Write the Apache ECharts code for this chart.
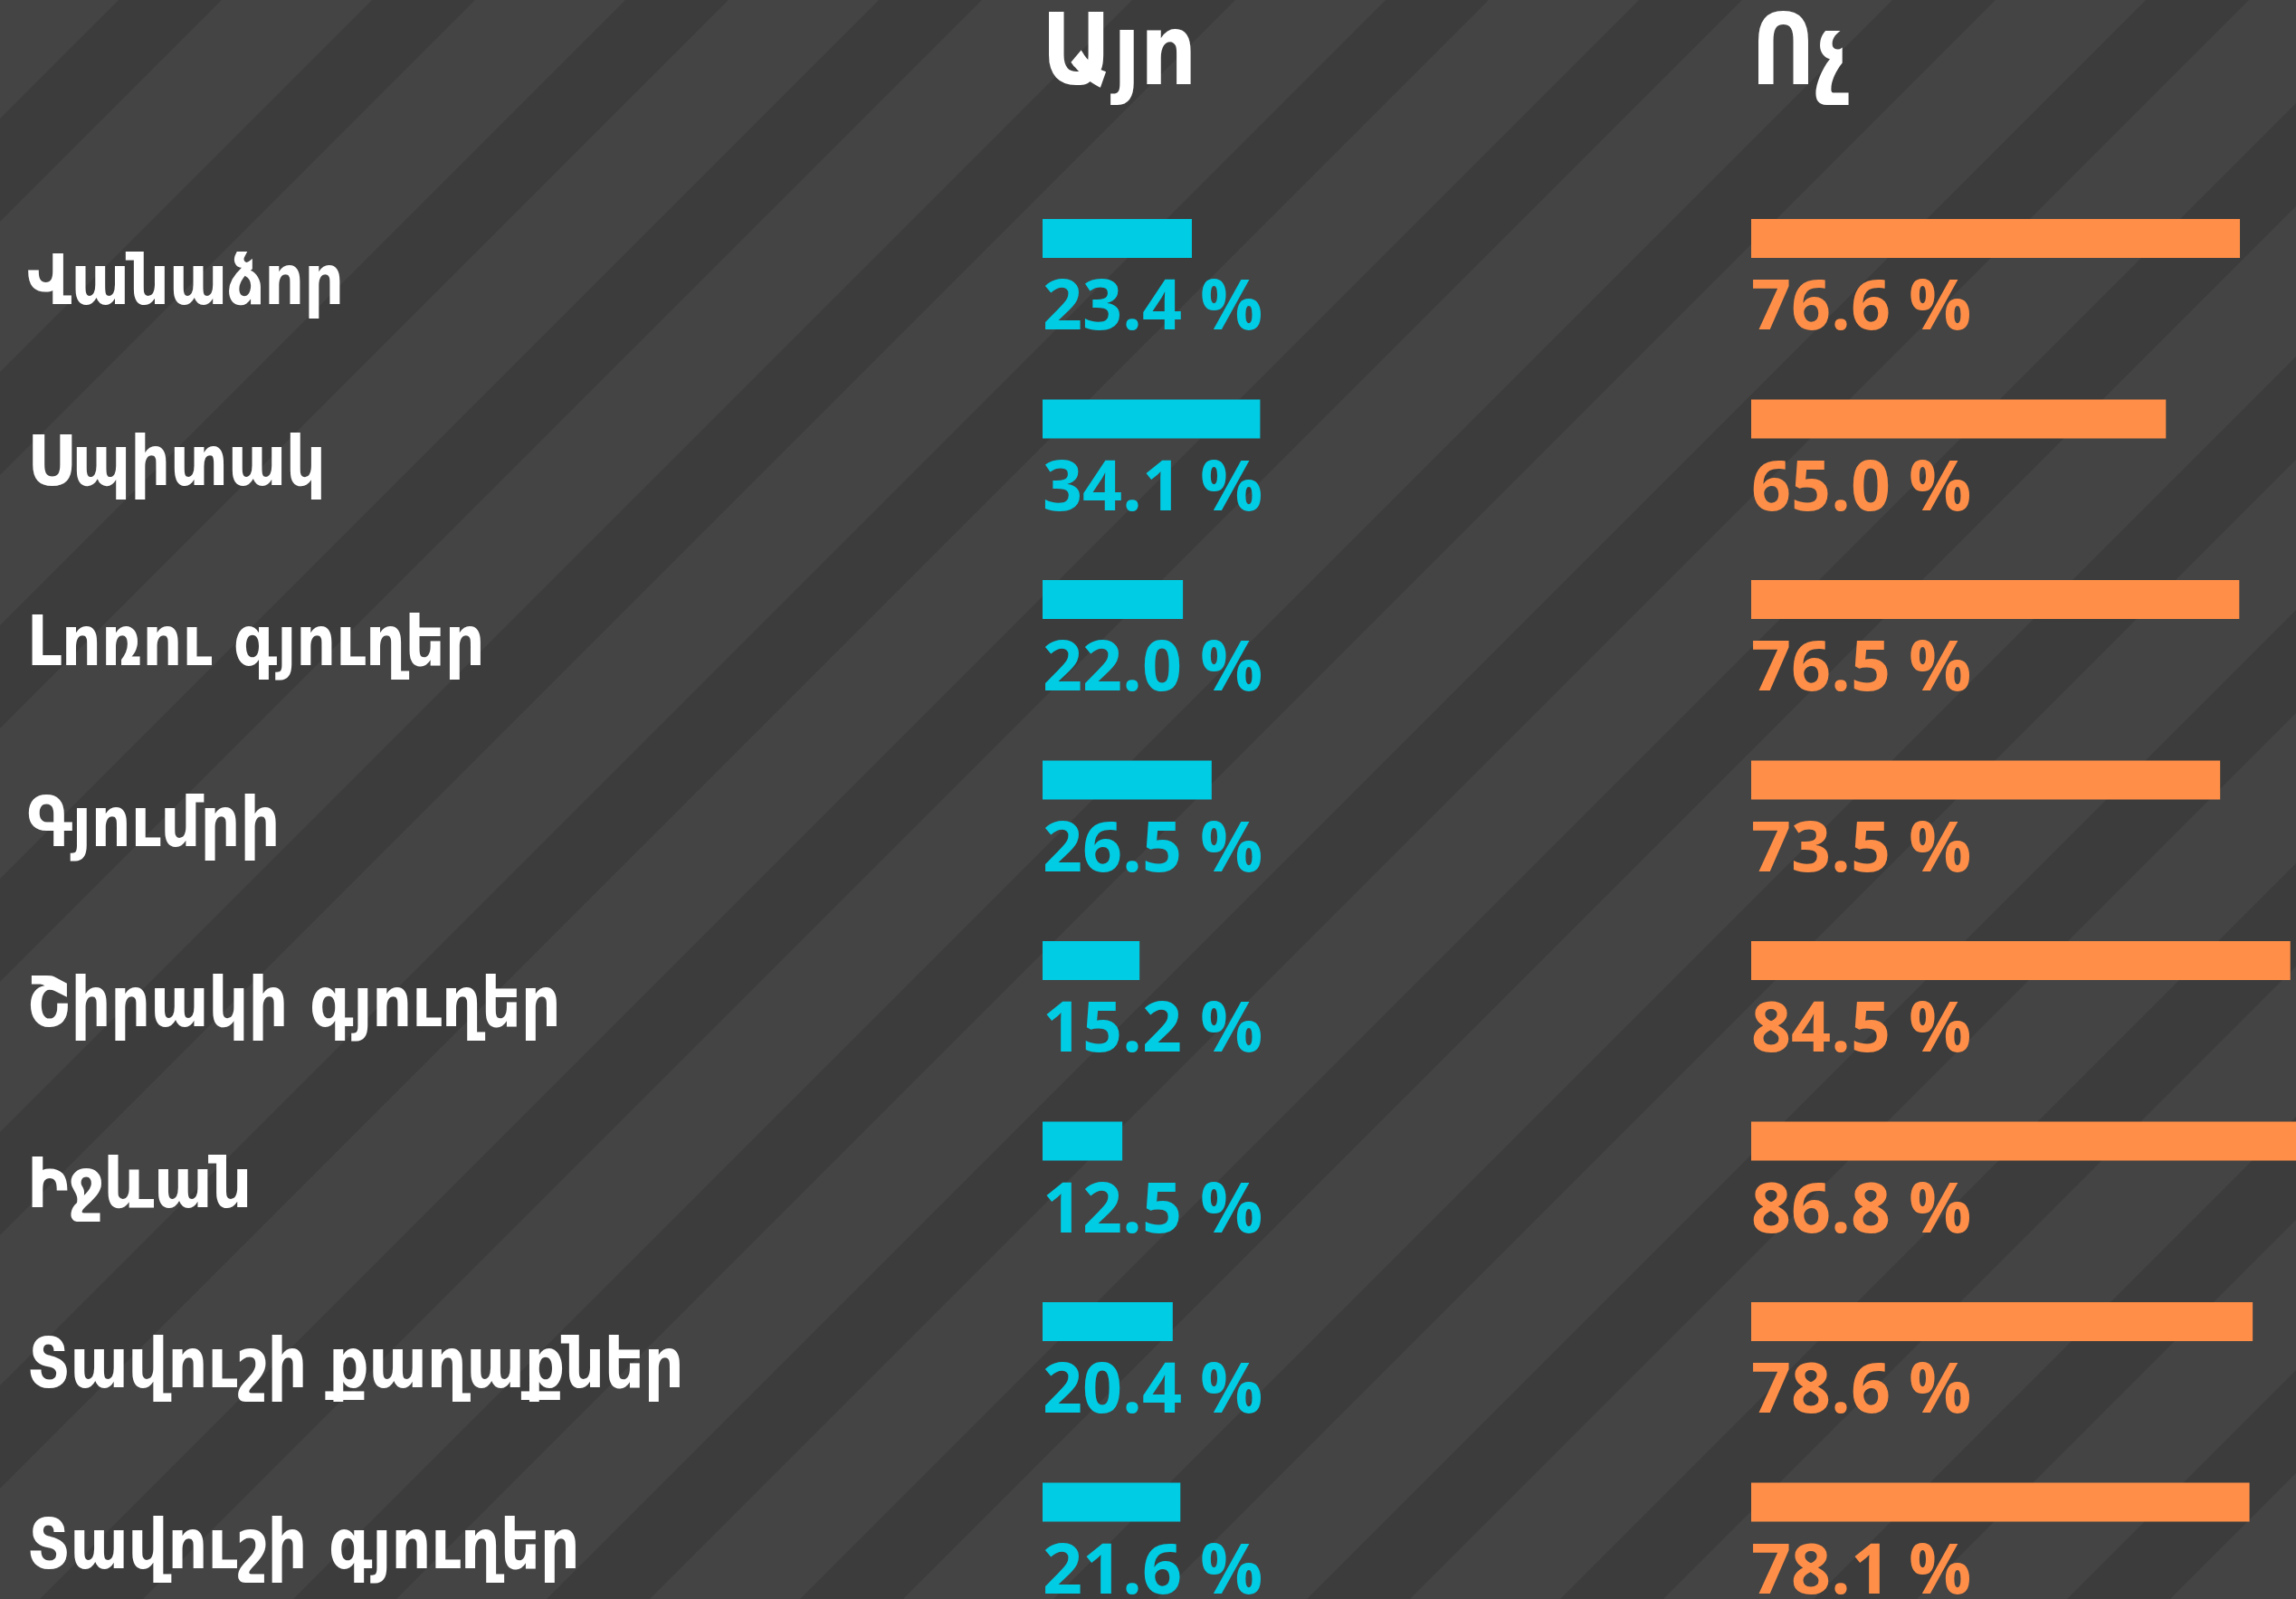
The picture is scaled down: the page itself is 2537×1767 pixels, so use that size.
<!DOCTYPE html>
<html>
<head>
<meta charset="utf-8">
<script src="https://cdn.jsdelivr.net/npm/echarts@6/dist/echarts.min.js"></script>
<style>
  html, body { margin: 0; padding: 0; background: #444444; }
  #chart { width: 2537px; height: 1767px; }
</style>
</head>
<body>
<div id="chart"></div>
<script>
var categories = ['Վանաձոր', 'Սպիտակ', 'Լոռու գյուղեր', 'Գյումրի', 'Շիրակի գյուղեր', 'Իջևան', 'Տավուշի քաղաքներ', 'Տավուշի գյուղեր'];
var yesValues = [23.4, 34.1, 22.0, 26.5, 15.2, 12.5, 20.4, 21.6];
var noValues = [76.6, 65.0, 76.5, 73.5, 84.5, 86.8, 78.6, 78.1];
var headers = ['Այո', 'Ոչ'];

// striped background tile (45deg bands)
function stripeTile() {
    var c = document.createElement('canvas');
    c.width = 280;
    c.height = 280;
    var ctx = c.getContext('2d');
    ctx.fillStyle = '#444444';
    ctx.fillRect(0, 0, 280, 280);
    ctx.fillStyle = '#3c3c3c';
    [131, 411].forEach(function (a) {
        var b = a + 114;
        ctx.beginPath();
        ctx.moveTo(a, 0);
        ctx.lineTo(b, 0);
        ctx.lineTo(b - 1000, 1000);
        ctx.lineTo(a - 1000, 1000);
        ctx.closePath();
        ctx.fill();
    });
    return c;
}

var armFont = "'DejaVu Sans Condensed', 'DejaVu Sans', sans-serif";
var numFont = "'Open Sans', 'Lato', sans-serif";
var gridTop = 163.75, gridHeight = 1596;

function pctLabel(color) {
    return {
        show: true,
        position: [0, 62],
        align: 'left',
        verticalAlign: 'top',
        color: color,
        fontFamily: numFont,
        fontWeight: 'bold',
        fontSize: 77,
        formatter: function (p) { return p.value.toFixed(1) + ' %'; }
    };
}

var option = {
    backgroundColor: { image: stripeTile(), repeat: 'repeat' },
    animation: false,
    title: [
        { text: headers[0], left: 1146, top: 6, textStyle: { color: '#fff', fontFamily: armFont, fontWeight: 'bold', fontSize: 108 } },
        { text: headers[1], left: 1930, top: 6, textStyle: { color: '#fff', fontFamily: armFont, fontWeight: 'bold', fontSize: 108 } }
    ],
    grid: [
        { left: 1152, top: gridTop, width: 705, height: gridHeight, outerBoundsMode: 'none' },
        { left: 1935, top: gridTop, width: 705, height: gridHeight, outerBoundsMode: 'none' }
    ],
    xAxis: [
        { gridIndex: 0, type: 'value', min: 0, max: 100, show: false },
        { gridIndex: 1, type: 'value', min: 0, max: 100, show: false }
    ],
    yAxis: [
        {
            gridIndex: 0, type: 'category', inverse: true, data: categories,
            axisLine: { show: false }, axisTick: { show: false }, splitLine: { show: false },
            axisLabel: {
                align: 'left', margin: 1122,
                verticalAlign: 'top', lineHeight: 106,
                color: '#fff', fontFamily: armFont, fontWeight: 'bold', fontSize: 76
            }
        },
        { gridIndex: 1, type: 'category', inverse: true, data: categories, show: false }
    ],
    series: [
        {
            name: headers[0], type: 'bar', xAxisIndex: 0, yAxisIndex: 0,
            data: yesValues, barWidth: 43,
            itemStyle: { color: '#00cce3' },
            label: pctLabel('#00cce3')
        },
        {
            name: headers[1], type: 'bar', xAxisIndex: 1, yAxisIndex: 1,
            data: noValues, barWidth: 43,
            itemStyle: { color: '#ff8f48' },
            label: pctLabel('#ff8f48')
        }
    ]
};

var chart = echarts.init(document.getElementById('chart'));
chart.setOption(option);
</script>
</body>
</html>
